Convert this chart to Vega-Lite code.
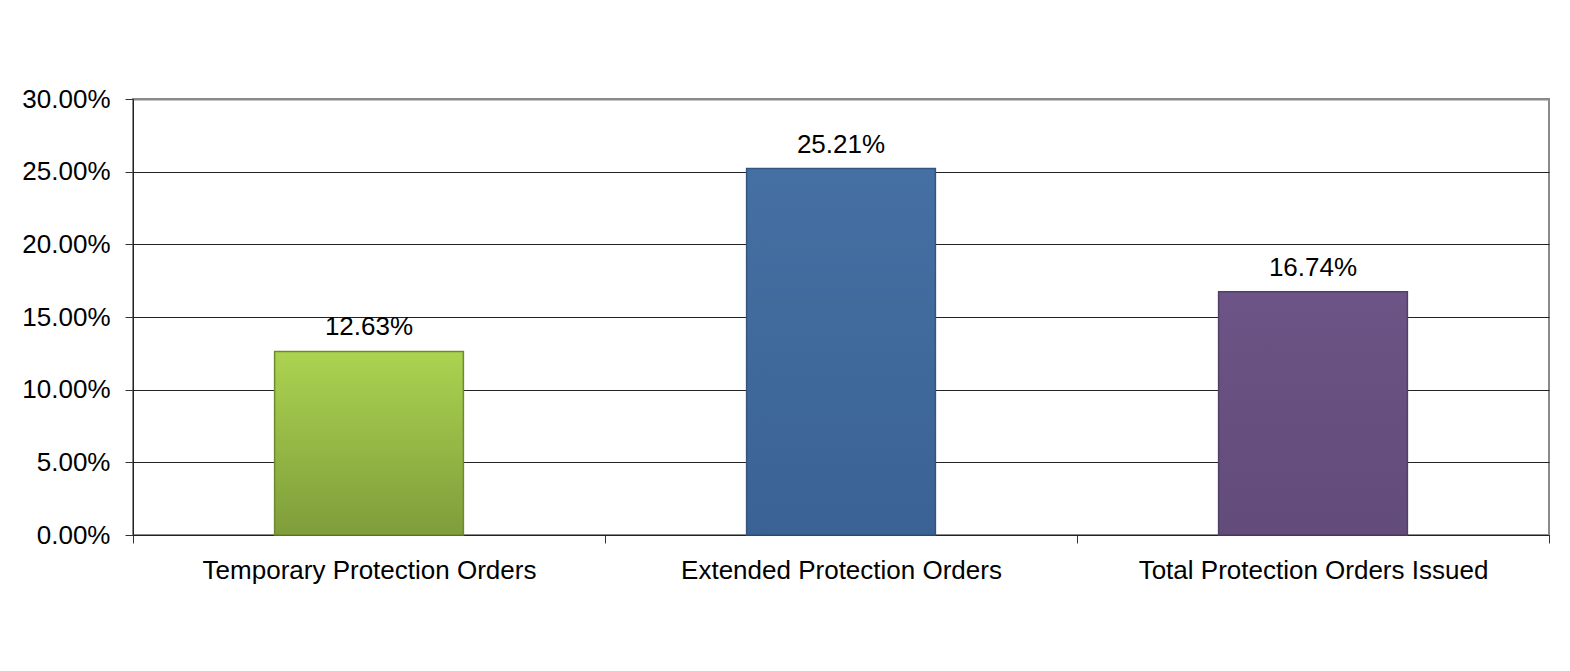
{
  "$schema": "https://vega.github.io/schema/vega-lite/v6.json",
  "autosize": "none",
  "width": 1416,
  "height": 436,
  "padding": {"left": 133, "top": 99, "right": 21, "bottom": 136},
  "background": "white",
  "config": {
    "font": "Liberation Sans",
    "view": {"stroke": "#8a8a8a", "strokeWidth": 2},
    "axis": {"labelFont": "Liberation Sans", "labelColor": "#000", "labelFontSize": 26, "labelLimit": 0}
  },
  "data": {
    "values": [
      {"category": "Temporary Protection Orders", "value": 0.1263},
      {"category": "Extended Protection Orders", "value": 0.2521},
      {"category": "Total Protection Orders Issued", "value": 0.1674}
    ]
  },
  "encoding": {
    "x": {
      "field": "category",
      "type": "nominal",
      "sort": null,
      "title": null,
      "scale": {"paddingInner": 0, "paddingOuter": 0},
      "axis": {
        "labelAngle": 0,
        "tickBand": "extent",
        "tickSize": 8,
        "tickColor": "#333",
        "domainColor": "#222",
        "labelPadding": 14
      }
    },
    "y": {
      "field": "value",
      "type": "quantitative",
      "title": null,
      "scale": {"domain": [0, 0.3], "nice": false},
      "axis": {
        "format": ".2%",
        "values": [0, 0.05, 0.1, 0.15, 0.2, 0.25, 0.3],
        "tickSize": 8,
        "tickColor": "#333",
        "domainColor": "#222",
        "gridColor": {"condition": {"test": "datum.value >= 0.299", "value": "#8a8a8a"}, "value": "#222"},
        "gridWidth": {"condition": {"test": "datum.value >= 0.299", "value": 2}, "value": 1},
        "gridOpacity": 1,
        "labelPadding": 15
      }
    }
  },
  "layer": [
    {
      "transform": [{"filter": "datum.category === 'Temporary Protection Orders'"}],
      "mark": {
        "type": "bar",
        "width": {"band": 0.4},
        "stroke": "#6d8a2e",
        "strokeWidth": 1.5,
        "color": {
          "gradient": "linear", "x1": 0, "y1": 0, "x2": 0, "y2": 1,
          "stops": [
            {"offset": 0, "color": "#abd350"},
            {"offset": 1, "color": "#7f9d3b"}
          ]
        }
      }
    },
    {
      "transform": [{"filter": "datum.category === 'Extended Protection Orders'"}],
      "mark": {
        "type": "bar",
        "width": {"band": 0.4},
        "stroke": "#33557f",
        "strokeWidth": 1.5,
        "color": {
          "gradient": "linear", "x1": 0, "y1": 0, "x2": 0, "y2": 1,
          "stops": [
            {"offset": 0, "color": "#4570a3"},
            {"offset": 1, "color": "#3b6294"}
          ]
        }
      }
    },
    {
      "transform": [{"filter": "datum.category === 'Total Protection Orders Issued'"}],
      "mark": {
        "type": "bar",
        "width": {"band": 0.4},
        "stroke": "#523f68",
        "strokeWidth": 1.5,
        "color": {
          "gradient": "linear", "x1": 0, "y1": 0, "x2": 0, "y2": 1,
          "stops": [
            {"offset": 0, "color": "#6c5486"},
            {"offset": 1, "color": "#624c7a"}
          ]
        }
      }
    },
    {
      "mark": {"type": "text", "baseline": "alphabetic", "dy": -16, "fontSize": 26, "color": "#000", "font": "Liberation Sans"},
      "encoding": {
        "text": {"field": "value", "type": "quantitative", "format": ".2%"}
      }
    }
  ]
}
